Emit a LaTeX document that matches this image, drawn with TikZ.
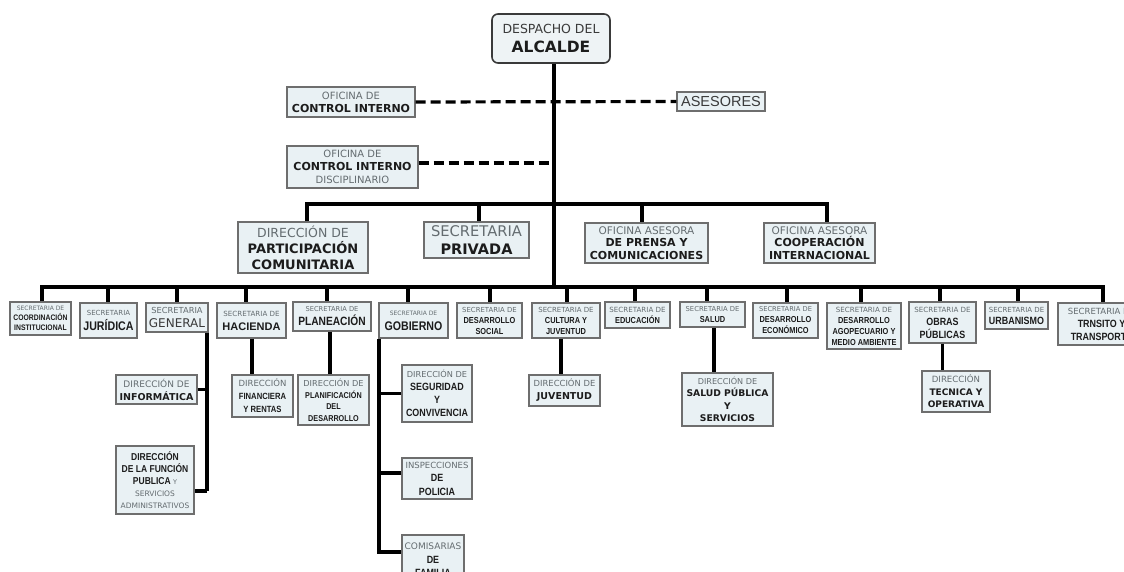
\documentclass[tikz,border=0pt]{standalone}
\usepackage{fontspec}
\setmainfont{DejaVu Sans}
\newfontfamily\vf{DejaVu Sans}
\newfontfamily\af{Liberation Sans}
\newfontfamily\nf[FakeStretch=0.85]{Liberation Sans}
\definecolor{bg}{HTML}{E9F1F4}
\definecolor{bgtop}{HTML}{EEF3F5}
\definecolor{bd}{HTML}{6E6E6E}
\definecolor{lt}{HTML}{646C70}
\definecolor{md}{HTML}{3A3A3A}
\definecolor{dk}{HTML}{1C1C1C}
\newcommand\fs[2]{\fontsize{#1}{#2}\selectfont}
\newcommand\lite[1]{\vf\mdseries\fontsize{#1}{#1}\selectfont\color{lt}}
\newcommand\vbold[1]{\vf\bfseries\fontsize{#1}{#1}\selectfont\color{dk}}
\newcommand\nbold[1]{\nf\bfseries\fontsize{#1}{#1}\selectfont\color{dk}}
\newcommand\abold[1]{\af\bfseries\fontsize{#1}{#1}\selectfont\color{dk}}
\tikzset{
  box/.style={draw=bd, line width=1.2pt, fill=bg, inner sep=0pt, align=center, text=dk},
  topbox/.style={box, draw=md, line width=1.6pt, fill=bgtop, rounded corners=6pt},
  sk/.style={font=\fontsize{8}{#1}\selectfont},
  con/.style={line width=3.2pt, draw=black},
  dsh/.style={line width=3.2pt, draw=black, dash pattern=on 10pt off 5pt},
}
\begin{document}
\begin{tikzpicture}[x=1pt,y=-1pt]
\useasboundingbox (0,0) rectangle (1124,572);
\clip (0,0) rectangle (1124,572);
\fill[white] (0,0) rectangle (1124,572);

% ---------- top levels ----------
\node[topbox, sk=19, minimum width=118pt, minimum height=49pt] (alc) at (551,38.5)
  {\lite{12.5}\color{md}DESPACHO DEL\\ \vbold{15.5}ALCALDE};
\node[box, sk=13, minimum width=128pt, minimum height=30pt] (oci) at (351,102)
  {\lite{10}OFICINA DE\\ \vbold{11}CONTROL INTERNO};
\node[box, sk=16, minimum width=88pt, minimum height=19pt] (ase) at (721,101.5)
  {\af\fs{14.5}{16}\color{md}ASESORES};
\node[box, sk=13.3, minimum width=131pt, minimum height=42pt] (ocid) at (352.5,167)
  {\lite{10}OFICINA DE\\ \vbold{11}CONTROL INTERNO\\ \lite{10}DISCIPLINARIO};

\node[box, sk=16, minimum width=130pt, minimum height=51pt] (par) at (303,247.5)
  {\lite{12.5}DIRECCIÓN DE\\ \vbold{13}PARTICIPACIÓN\\ \vbold{13}COMUNITARIA};
\node[box, sk=18, minimum width=105pt, minimum height=36pt] (priv) at (476.5,240)
  {\lite{14.7}SECRETARIA\\ \vbold{14.5}PRIVADA};
\node[box, sk=12.5, minimum width=123pt, minimum height=40pt] (pren) at (646.5,243)
  {\lite{10.5}OFICINA ASESORA\\ \vbold{11}DE PRENSA Y\\ \vbold{11}COMUNICACIONES};
\node[box, sk=12.5, minimum width=111pt, minimum height=40pt] (coop) at (819.5,243)
  {\lite{10.5}OFICINA ASESORA\\ \vbold{11}COOPERACIÓN\\ \vbold{11}INTERNACIONAL};

% ---------- secretarias row ----------
\node[box, sk=10, minimum width=61pt, minimum height=33pt] (s1) at (40.5,318.5)
  {\lite{6}SECRETARIA DE\\ \nbold{8}COORDINACIÓN\\ \nbold{8}INSTITUCIONAL};
\node[box, sk=15, minimum width=57pt, minimum height=35pt] (s2) at (108.5,320.5)
  {\lite{7}SECRETARIA\\ \nbold{12.5}JURÍDICA};
\node[box, sk=14, minimum width=62pt, minimum height=29pt] (s3) at (177,317.5)
  {\lite{8.3}SECRETARIA\\ \vf\mdseries\fs{12}{12}\color{md}GENERAL};
\node[box, sk=14, minimum width=69pt, minimum height=35pt] (s4) at (251.5,320.5)
  {\lite{7.1}SECRETARIA DE\\ \abold{11}HACIENDA};
\node[box, sk=14, minimum width=78pt, minimum height=29pt] (s5) at (332,316.5)
  {\lite{6.7}SECRETARIA DE\\ \nbold{12}PLANEACIÓN};
\node[box, sk=15, minimum width=69pt, minimum height=35pt] (s6) at (413.5,320.5)
  {\lite{6}SECRETARIA DE\\ \nbold{12.5}GOBIERNO};
\node[box, sk=11, minimum width=65pt, minimum height=35pt] (s7) at (489.5,320.5)
  {\lite{6.9}SECRETARIA DE\\ \nbold{8.7}DESARROLLO\\ \nbold{8.7}SOCIAL};
\node[box, sk=11, minimum width=68pt, minimum height=35pt] (s8) at (566,320.5)
  {\lite{7}SECRETARIA DE\\ \nbold{8.7}CULTURA Y\\ \nbold{8.7}JUVENTUD};
\node[box, sk=11, minimum width=65pt, minimum height=26pt] (s9) at (637.5,315)
  {\lite{7.1}SECRETARIA DE\\ \nbold{8.7}EDUCACIÓN};
\node[box, sk=11, minimum width=65pt, minimum height=25pt] (s10) at (712.5,314.5)
  {\lite{6.8}SECRETARIA DE\\ \nbold{8.7}SALUD};
\node[box, sk=11, minimum width=65pt, minimum height=35pt] (s11) at (785.5,320.5)
  {\lite{6.7}SECRETARIA DE\\ \nbold{8.7}DESARROLLO\\ \nbold{8.7}ECONÓMICO};
\node[box, sk=11, minimum width=74pt, minimum height=46pt] (s12) at (864,326)
  {\lite{7.1}SECRETARIA DE\\ \nbold{8.7}DESARROLLO\\ \nbold{8.7}AGOPECUARIO Y\\ \nbold{8.7}MEDIO AMBIENTE};
\node[box, sk=13, minimum width=67pt, minimum height=41pt] (s13) at (942.5,322.5)
  {\lite{7.1}SECRETARIA DE\\ \nbold{10.5}OBRAS\\ \nbold{10.5}PÚBLICAS};
\node[box, sk=12, minimum width=63pt, minimum height=27pt] (s14) at (1016.5,315.5)
  {\lite{7}SECRETARIA DE\\ \nbold{10.5}URBANISMO};
\node[box, sk=13, minimum width=87pt, minimum height=42pt] (s15) at (1101.5,324)
  {\lite{8.5}SECRETARIA DE\\ \nbold{10.5}TRNSITO Y\\ \nbold{10.5}TRANSPORTE};

% ---------- children ----------
\node[box, sk=13, minimum width=81pt, minimum height=29pt] (inf) at (156.5,389.5)
  {\lite{9}DIRECCIÓN DE\\ \vbold{9.5}INFORMÁTICA};
\node[box, sk=12, minimum width=78pt, minimum height=68pt] (fun) at (155,480)
  {\nbold{10}DIRECCIÓN\\ \nbold{10}DE LA FUNCIÓN\\ \nbold{10}PUBLICA {\lite{6.5}Y}\\ \lite{7.5}SERVICIOS\\ \lite{7.5}ADMINISTRATIVOS};
\node[box, sk=13, minimum width=61pt, minimum height=42pt] (fin) at (262.5,396)
  {\lite{8.5}DIRECCIÓN\\ \nbold{9}FINANCIERA\\ \nbold{9}Y RENTAS};
\node[box, sk=11.5, minimum width=71pt, minimum height=50pt] (pla) at (333.5,400)
  {\lite{8.2}DIRECCIÓN DE\\ \nbold{8.5}PLANIFICACIÓN\\ \nbold{8.5}DEL\\ \nbold{8.5}DESARROLLO};
\node[box, sk=13, minimum width=70pt, minimum height=57pt] (seg) at (437,393.5)
  {\lite{8.2}DIRECCIÓN DE\\ \nbold{10.5}SEGURIDAD\\ \nbold{10.5}Y\\ \nbold{10.5}CONVIVENCIA};
\node[box, sk=13.5, minimum width=70pt, minimum height=41pt] (ins) at (437,478.5)
  {\lite{8.5}INSPECCIONES\\ \nbold{10.5}DE\\ \nbold{10.5}POLICIA};
\node[box, sk=13.5, minimum width=62pt, minimum height=50pt] (com) at (433,560)
  {\lite{9}COMISARIAS\\ \nbold{10.5}DE\\ \nbold{10.5}FAMILIA};
\node[box, sk=13, minimum width=71pt, minimum height=31pt] (juv) at (564.5,390.5)
  {\lite{8.4}DIRECCIÓN DE\\ \vbold{9.5}JUVENTUD};
\node[box, sk=12.5, minimum width=91pt, minimum height=53pt] (sal) at (727.5,399.5)
  {\lite{8.1}DIRECCIÓN DE\\ \vbold{9.2}SALUD PÚBLICA\\ \vbold{9.2}Y\\ \vbold{9.2}SERVICIOS};
\node[box, sk=12.5, minimum width=68pt, minimum height=41pt] (tec) at (956,391.5)
  {\lite{8.6}DIRECCIÓN\\ \vbold{9}TECNICA Y\\ \vbold{9}OPERATIVA};

% ---------- connectors ----------
\coordinate (mb) at (554,287);
\draw[con] (alc.south -| mb) -- (mb);
\draw[dsh] (oci.east) -- (ase.west);
\draw[dsh] ([yshift=4pt]ocid.east) -- ([yshift=4pt]ocid.east -| mb);

% second level bus
\coordinate (b1) at (307,204);
\coordinate (b2) at (479,204);
\coordinate (b3) at (642,204);
\coordinate (b4) at (827,204);
\draw[con] (b1 |- par.north) -- (b1) -- (b4) -- (b4 |- coop.north);
\draw[con] (b2) -- (b2 |- priv.north);
\draw[con] (b3) -- (b3 |- pren.north);

% secretarias bus
\foreach \n/\x in {s1/42,s2/108,s3/177,s4/246,s5/327,s6/408,s7/490,s8/567,s9/635,s10/707,s11/787,s12/861,s13/940,s14/1018,s15/1103}{
  \coordinate (t\n) at (\x,287);
  \draw[con] (t\n) -- (t\n |- \n.north);
}
\draw[con] (ts1 |- s1.north) -- (ts1) -- (ts15) -- (ts15 |- s15.north);

% children connectors
\coordinate (gv) at (207,491);
\draw[con] (s3.south -| gv) -- (gv);
\draw[con] (inf.east) -- (inf.east -| gv);
\draw[con] (gv) -- (gv -| fun.east);
\draw[con] ([xshift=0.5pt]s4.south) -- ([xshift=0.5pt]s4.south |- fin.north);
\draw[con] ([xshift=-2pt]s5.south) -- ([xshift=-2pt]s5.south |- pla.north);
\coordinate (gb) at (379,552);
\draw[con] (s6.south -| gb) -- (gb) -- (gb -| com.west);
\draw[con] (seg.west) -- (seg.west -| gb);
\draw[con] ([yshift=5.5pt]ins.west) -- ([yshift=5.5pt]ins.west -| gb);
\draw[con] ([xshift=-5pt]s8.south) -- ([xshift=-5pt]s8.south |- juv.north);
\draw[con] ([xshift=1.5pt]s10.south) -- ([xshift=1.5pt]s10.south |- sal.north);
\draw[con] (s13.south) -- (s13.south |- tec.north);
\end{tikzpicture}
\end{document}
